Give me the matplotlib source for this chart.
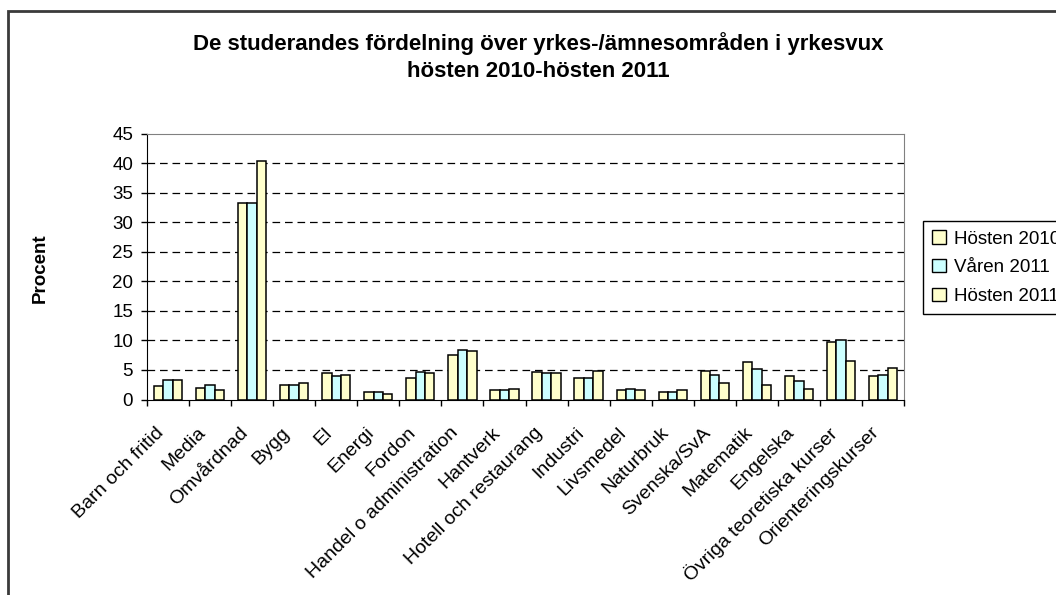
import numpy as np
import matplotlib.pyplot as plt
from matplotlib.patches import Rectangle, Patch
from matplotlib.transforms import ScaledTranslation

plt.rcParams['font.family'] = ['Liberation Sans', 'DejaVu Sans']
plt.rcParams['lines.scale_dashes'] = False

# data (percent)
categories = ['Barn och fritid', 'Media', 'Omvårdnad', 'Bygg', 'El', 'Energi',
              'Fordon', 'Handel o administration', 'Hantverk',
              'Hotell och restaurang', 'Industri', 'Livsmedel', 'Naturbruk',
              'Svenska/SvA', 'Matematik', 'Engelska',
              'Övriga teoretiska kurser', 'Orienteringskurser']
hosten_2010 = [2.3, 1.9, 33.3, 2.5, 4.4, 1.35, 3.7, 7.5, 1.6, 4.6, 3.7, 1.6, 1.3, 4.9, 6.3, 3.9, 9.8, 4.0]
varen_2011 = [3.3, 2.5, 33.3, 2.5, 4.0, 1.35, 4.7, 8.4, 1.6, 4.4, 3.7, 1.8, 1.3, 4.1, 5.1, 3.2, 10.1, 4.1]
hosten_2011 = [3.3, 1.6, 40.3, 2.8, 4.2, 0.9, 4.4, 8.2, 1.8, 4.4, 4.9, 1.6, 1.6, 2.8, 2.5, 1.8, 6.5, 5.4]
series_names = ['Hösten 2010', 'Våren 2011', 'Hösten 2011']
series_colors = ['#FFFFCC', '#CCFFFF', '#FFFFCC']
y_ticks = list(range(0, 50, 5))
title = 'De studerandes fördelning över yrkes-/ämnesområden i yrkesvux\nhösten 2010-hösten 2011'

W, H = 1056, 595
fig = plt.figure(figsize=(W / 100, H / 100), dpi=100)
ax = fig.add_axes([147 / W, 1 - 399.5 / H, (904 - 147) / W, (399.5 - 133.5) / H])

x = np.arange(len(categories))
bw = 0.224
for i, (vals, col) in enumerate(zip([hosten_2010, varen_2011, hosten_2011], series_colors)):
    ax.bar(x + (i - 1) * bw, vals, bw, color=col, edgecolor='black', linewidth=1.1, zorder=3)

# dashed grid lines
for yv in y_ticks[1:-1]:
    ax.axhline(yv, color='black', lw=0.9, ls=(0, (5.5, 3.5)), zorder=1)

ax.set_xlim(-0.5, len(categories) - 0.5)
ax.set_ylim(0, 45)
ax.set_yticks(y_ticks)
ax.tick_params(axis='y', length=4, width=1, pad=6, labelsize=13.5, direction='out')

ax.set_xticks(x)
ax.set_xticklabels(categories, rotation=45, ha='right', va='center',
                   rotation_mode='anchor', fontsize=14)
ax.set_xticks(np.arange(-0.5, len(categories), 1), minor=True)
ax.tick_params(axis='x', which='major', length=0, pad=22)
ax.tick_params(axis='x', which='minor', length=4, width=1, direction='out')
shift = ScaledTranslation(-7 / 100, 0, fig.dpi_scale_trans)
for lab in ax.get_xticklabels():
    lab.set_transform(lab.get_transform() + shift)

for side in ['top', 'right']:
    ax.spines[side].set_color('#808080')
for side in ['left', 'bottom']:
    ax.spines[side].set_color('black')

fig.text(40 / W, 1 - 268 / H, 'Procent', rotation=90, ha='center', va='center',
         fontsize=13.5, fontweight='bold')
fig.text(538 / W, 1 - 57 / H, title, ha='center', va='center',
         fontsize=16, fontweight='bold', linespacing=1.4)

handles = [Patch(facecolor=c, edgecolor='black', linewidth=1) for c in series_colors]
leg = fig.legend(handles, series_names, loc='upper left',
                 bbox_to_anchor=(923 / W, 1 - 221 / H), bbox_transform=fig.transFigure,
                 fancybox=False, edgecolor='black', framealpha=1, borderaxespad=0,
                 fontsize=13.5, handlelength=0.7, handleheight=0.7, handletextpad=0.45,
                 labelspacing=0.62, borderpad=0.5)
leg.get_frame().set_linewidth(1)

# outer chart border (cut off at right and bottom)
fig.add_artist(Rectangle((8 / W, -0.1), 1.2, 1.1 - 11 / H, transform=fig.transFigure,
                         fill=False, edgecolor='#3a3a3a', lw=2, clip_on=False))

fig.savefig('out.png', dpi=100)
